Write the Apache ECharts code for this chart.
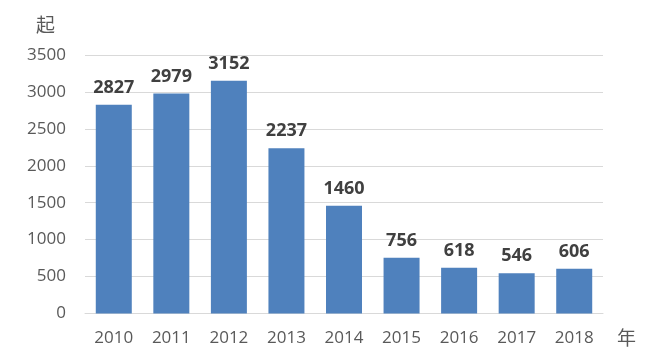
<!DOCTYPE html>
<html><head><meta charset="utf-8">
<script src="https://cdn.jsdelivr.net/npm/echarts@6/dist/echarts.min.js"></script>
<style>html,body{margin:0;padding:0;background:#fff}#c{width:658px;height:363px}</style>
</head><body><div id="c"></div>
<script>
var categories = ['2010','2011','2012','2013','2014','2015','2016','2017','2018'];
var values = [2827, 2979, 3152, 2237, 1460, 756, 618, 546, 606];
var yTicks = [0, 500, 1000, 1500, 2000, 2500, 3000, 3500];
var yUnit = '起';
var xUnit = '年';

var chart = echarts.init(document.getElementById('c'));
chart.setOption({
  animation: false,
  grid: {left: 85, right: 55, top: 55, bottom: 49.5},
  xAxis: {
    type: 'category', data: categories,
    axisLine: {show: true, lineStyle: {color: '#d9d9d9', width: 1}},
    axisTick: {show: false},
    axisLabel: {color: '#595959', fontSize: 17, fontFamily: 'Open Sans, Noto Sans, sans-serif', margin: 16},
    name: xUnit, nameLocation: 'end', nameGap: 14,
    nameTextStyle: {color: '#595959', fontSize: 19, fontFamily: 'Noto Sans CJK SC', align: 'left', verticalAlign: 'top', padding: [15, 0, 0, 0]}
  },
  yAxis: {
    type: 'value', min: yTicks[0], max: yTicks[yTicks.length-1], interval: 500,
    axisLine: {show: false}, axisTick: {show: false},
    splitLine: {lineStyle: {color: '#d9d9d9', width: 1}},
    axisLabel: {color: '#595959', fontSize: 17, fontFamily: 'Open Sans, Noto Sans, sans-serif', margin: 19,
      formatter: function (v) { return String(v); }},
    name: yUnit, nameLocation: 'end', nameGap: 30,
    nameTextStyle: {color: '#595959', fontSize: 19, fontFamily: 'Noto Sans CJK SC', align: 'right', verticalAlign: 'middle', padding: [0, 30, 0, 0]}
  },
  series: [{
    type: 'bar', data: values, barWidth: 36,
    itemStyle: {color: '#4f81bd'},
    label: {show: true, position: 'top', distance: 8, color: '#404040', fontSize: 18, fontWeight: 'bold', fontFamily: 'Open Sans, Noto Sans, sans-serif'}
  }]
});
</script></body></html>
